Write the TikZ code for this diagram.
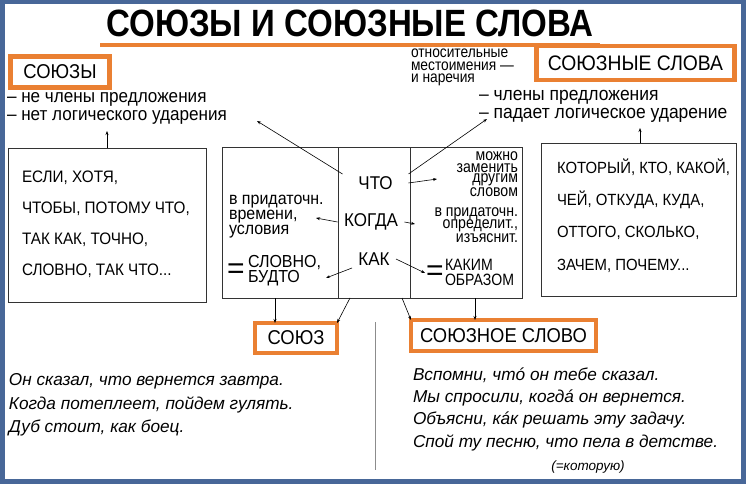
\documentclass[tikz,border=0pt]{standalone}
\usepackage{fontspec}
\setmainfont{Liberation Sans}
\newfontfamily\cnd[FakeStretch=0.92]{Liberation Sans}
\newfontfamily\nrw[FakeStretch=0.86]{Liberation Sans}
\newfontfamily\ttlf[FakeStretch=0.87]{Liberation Sans}
\usetikzlibrary{arrows.meta}
\definecolor{frameblue}{RGB}{72,103,152}
\definecolor{orng}{RGB}{234,128,50}
\begin{document}
\begin{tikzpicture}[x=1pt,y=-1pt,
  every node/.style={inner sep=0pt, outer sep=0pt},
  obox/.style={draw=orng, line width=4.5pt, fill=white, font=\cnd\fontsize{20}{22}\selectfont},
  tbox/.style={draw=black!80, line width=0.8pt},
  lst/.style={font=\cnd\fontsize{18.6}{20}\selectfont, anchor=west},
  itm/.style={font=\cnd\fontsize{16.6}{19}\selectfont, anchor=west},
  ritm/.style={font=\cnd\fontsize{16.2}{19}\selectfont, anchor=west},
  small/.style={font=\nrw\fontsize{16}{13}\selectfont},
  lab/.style={font=\cnd\fontsize{17.4}{15}\selectfont},
  rlab/.style={font=\nrw\fontsize{16.4}{12}\selectfont},
  word/.style={font=\cnd\fontsize{18.5}{20}\selectfont},
  eqs/.style={font=\fontsize{30}{30}\selectfont, text height=15.5pt, text depth=-5pt},
  ex/.style={font=\itshape\fontsize{17.2}{18}\selectfont, anchor=west},
  arr/.style={-{Stealth[length=4pt,width=3pt]}, line width=0.6pt}
]
\useasboundingbox (0,0) rectangle (746,484);
\fill[frameblue] (0,0) rectangle (746,484);
\fill[white] (5,4) rectangle (741,479);

% title
\node[font=\ttlf\bfseries\fontsize{38}{40}\selectfont] (title) at (350,23) {СОЮЗЫ И СОЮЗНЫЕ СЛОВА};
\coordinate (ul1) at (100,45);
\coordinate (ul2) at (600,45);
\draw[orng, line width=3.5pt] (ul1) -- (ul2);

% left header
\node[obox, minimum width=99pt, minimum height=31pt] (soyuzy) at (60,72) {СОЮЗЫ};
\node[lst] (l1) at (7,99) {– не члены предложения};
\node[lst] (l2) at (7,117) {– нет логического ударения};

% right header
\node[small, anchor=west] (o1) at (411,53) {относительные};
\node[small, anchor=west] (o2) at (411,66.5) {местоимения —};
\node[small, anchor=west] (o3) at (411,80) {и наречия};
\node[obox, minimum width=198pt, minimum height=34pt, font=\cnd\fontsize{21}{22}\selectfont] (soyslova) at (635.5,63) {СОЮЗНЫЕ СЛОВА};
\node[lst, font=\cnd\fontsize{19}{20}\selectfont] (r1) at (479,97) {– члены предложения};
\node[lst, font=\cnd\fontsize{19}{20}\selectfont] (r2) at (479,115) {– падает логическое ударение};

% left box
\node[tbox, minimum width=198pt, minimum height=154pt] (lbox) at (107,225) {};
\node[itm] (a1) at (22,178) {ЕСЛИ, ХОТЯ,};
\node[itm] (a2) at (22,209) {ЧТОБЫ, ПОТОМУ ЧТО,};
\node[itm] (a3) at (22,240) {ТАК КАК, ТОЧНО,};
\node[itm] (a4) at (22,271) {СЛОВНО, ТАК ЧТО...};
\coordinate (lup) at (107,131);
\draw[arr] (lbox.north) -- (lup);

% right box
\node[tbox, minimum width=195pt, minimum height=153pt] (rbox) at (638.5,219.5) {};
\node[ritm] (b1) at (557,167) {КОТОРЫЙ, КТО, КАКОЙ,};
\node[ritm] (b2) at (557,200) {ЧЕЙ, ОТКУДА, КУДА,};
\node[ritm] (b3) at (557,233) {ОТТОГО, СКОЛЬКО,};
\node[ritm] (b4) at (557,266) {ЗАЧЕМ, ПОЧЕМУ...};
\coordinate (rup) at (640,128);
\draw[arr] (rbox.north -| rup) -- (rup);

% middle box columns
\node[tbox, minimum width=116pt, minimum height=151pt] (colA) at (280,222.5) {};
\node[tbox, minimum width=72pt, minimum height=151pt] (colB) at (374,222.5) {};
\node[tbox, minimum width=112pt, minimum height=151pt] (colC) at (466,222.5) {};

\node[word, minimum width=66pt, minimum height=18pt] (chto) at (375.5,183) {ЧТО};
\node[word, minimum width=67pt, minimum height=18pt] (kogda) at (371,222) {КОГДА};
\node[word, minimum width=44pt, minimum height=18pt] (kak) at (374,259) {КАК};

% left column labels
\node[lab, anchor=west] (p1) at (229,202) {в придаточн.};
\node[lab, anchor=west] (p2) at (229,217) {времени,};
\node[lab, anchor=west] (p3) at (229,232) {условия};
\node[eqs] (eqA) at (236,271) {=};
\node[lab, anchor=west] (s1) at (248,263) {СЛОВНО,};
\node[lab, anchor=west] (s2) at (248,278) {БУДТО};

% right column labels
\node[rlab, anchor=east] (m1) at (518,156) {можно};
\node[rlab, anchor=east] (m2) at (518,168) {заменить};
\node[rlab, anchor=east] (m3) at (518,180) {другим};
\node[rlab, anchor=east] (m4) at (518,192) {словом};
\node[rlab, anchor=east] (q1) at (518,214) {в придаточн.};
\node[rlab, anchor=east] (q2) at (518,226) {определит.,};
\node[rlab, anchor=east] (q3) at (518,238) {изъяснит.};
\node[eqs] (eqC) at (435,273) {=};
\node[rlab, anchor=west] (k1) at (445,265) {КАКИМ};
\node[rlab, anchor=west] (k2) at (445,280) {ОБРАЗОМ};

% arrows inside
\coordinate (tA) at (316,218);
\coordinate (tB) at (326,278);
\coordinate (tC) at (437,179);
\coordinate (tD) at (415,224);
\coordinate (tE) at (425,273);
\draw[arr] (kogda.west) -- (tA);
\draw[arr] (kak.south west) -- (tB);
\draw[arr] (chto.east) -- (tC);
\draw[arr] (kogda.east) -- (tD);
\draw[arr] (kak.east) -- (tE);

% arrows to top
\coordinate (tL) at (257,121);
\coordinate (tR) at (487,119);
\draw[arr] (chto.north west) -- (tL);
\draw[arr] (chto.north east) -- (tR);

% bottom boxes
\node[obox, minimum width=82pt, minimum height=30pt] (soyuz) at (296,338) {СОЮЗ};
\node[obox, minimum width=185pt, minimum height=31pt] (soyslovo) at (503.5,335.5) {СОЮЗНОЕ СЛОВО};

\coordinate (d1) at (275,298);
\coordinate (d2) at (350,298);
\coordinate (d3) at (402,298);
\coordinate (d4) at (475,298);
\draw[arr] (d1) -- (d1 |- soyuz.north);
\draw[arr] (d2) -- (soyuz.north east);
\draw[arr] (d3) -- (soyslovo.north west);
\draw[arr] (d4) -- (d4 |- soyslovo.north);

% separator
\coordinate (sp1) at (375,322);
\coordinate (sp2) at (375,470);
\draw[black!45, line width=0.8pt] (sp1) -- (sp2);

% examples
\node[ex] (e1) at (9,381) {Он сказал, что вернется завтра.};
\node[ex] (e2) at (9,405) {Когда потеплеет, пойдем гулять.};
\node[ex] (e3) at (9,428) {Дуб стоит, как боец.};
\node[ex] (f1) at (413,375) {Вспомни, чтó он тебе сказал.};
\node[ex] (f2) at (413,398) {Мы спросили, когдá он вернется.};
\node[ex] (f3) at (413,420) {Объясни, кáк решать эту задачу.};
\node[ex] (f4) at (413,443) {Спой ту песню, что пела в детстве.};
\node[font=\itshape\fontsize{13.5}{14}\selectfont] (kot) at (588,467) {(=которую)};
\end{tikzpicture}
\end{document}
